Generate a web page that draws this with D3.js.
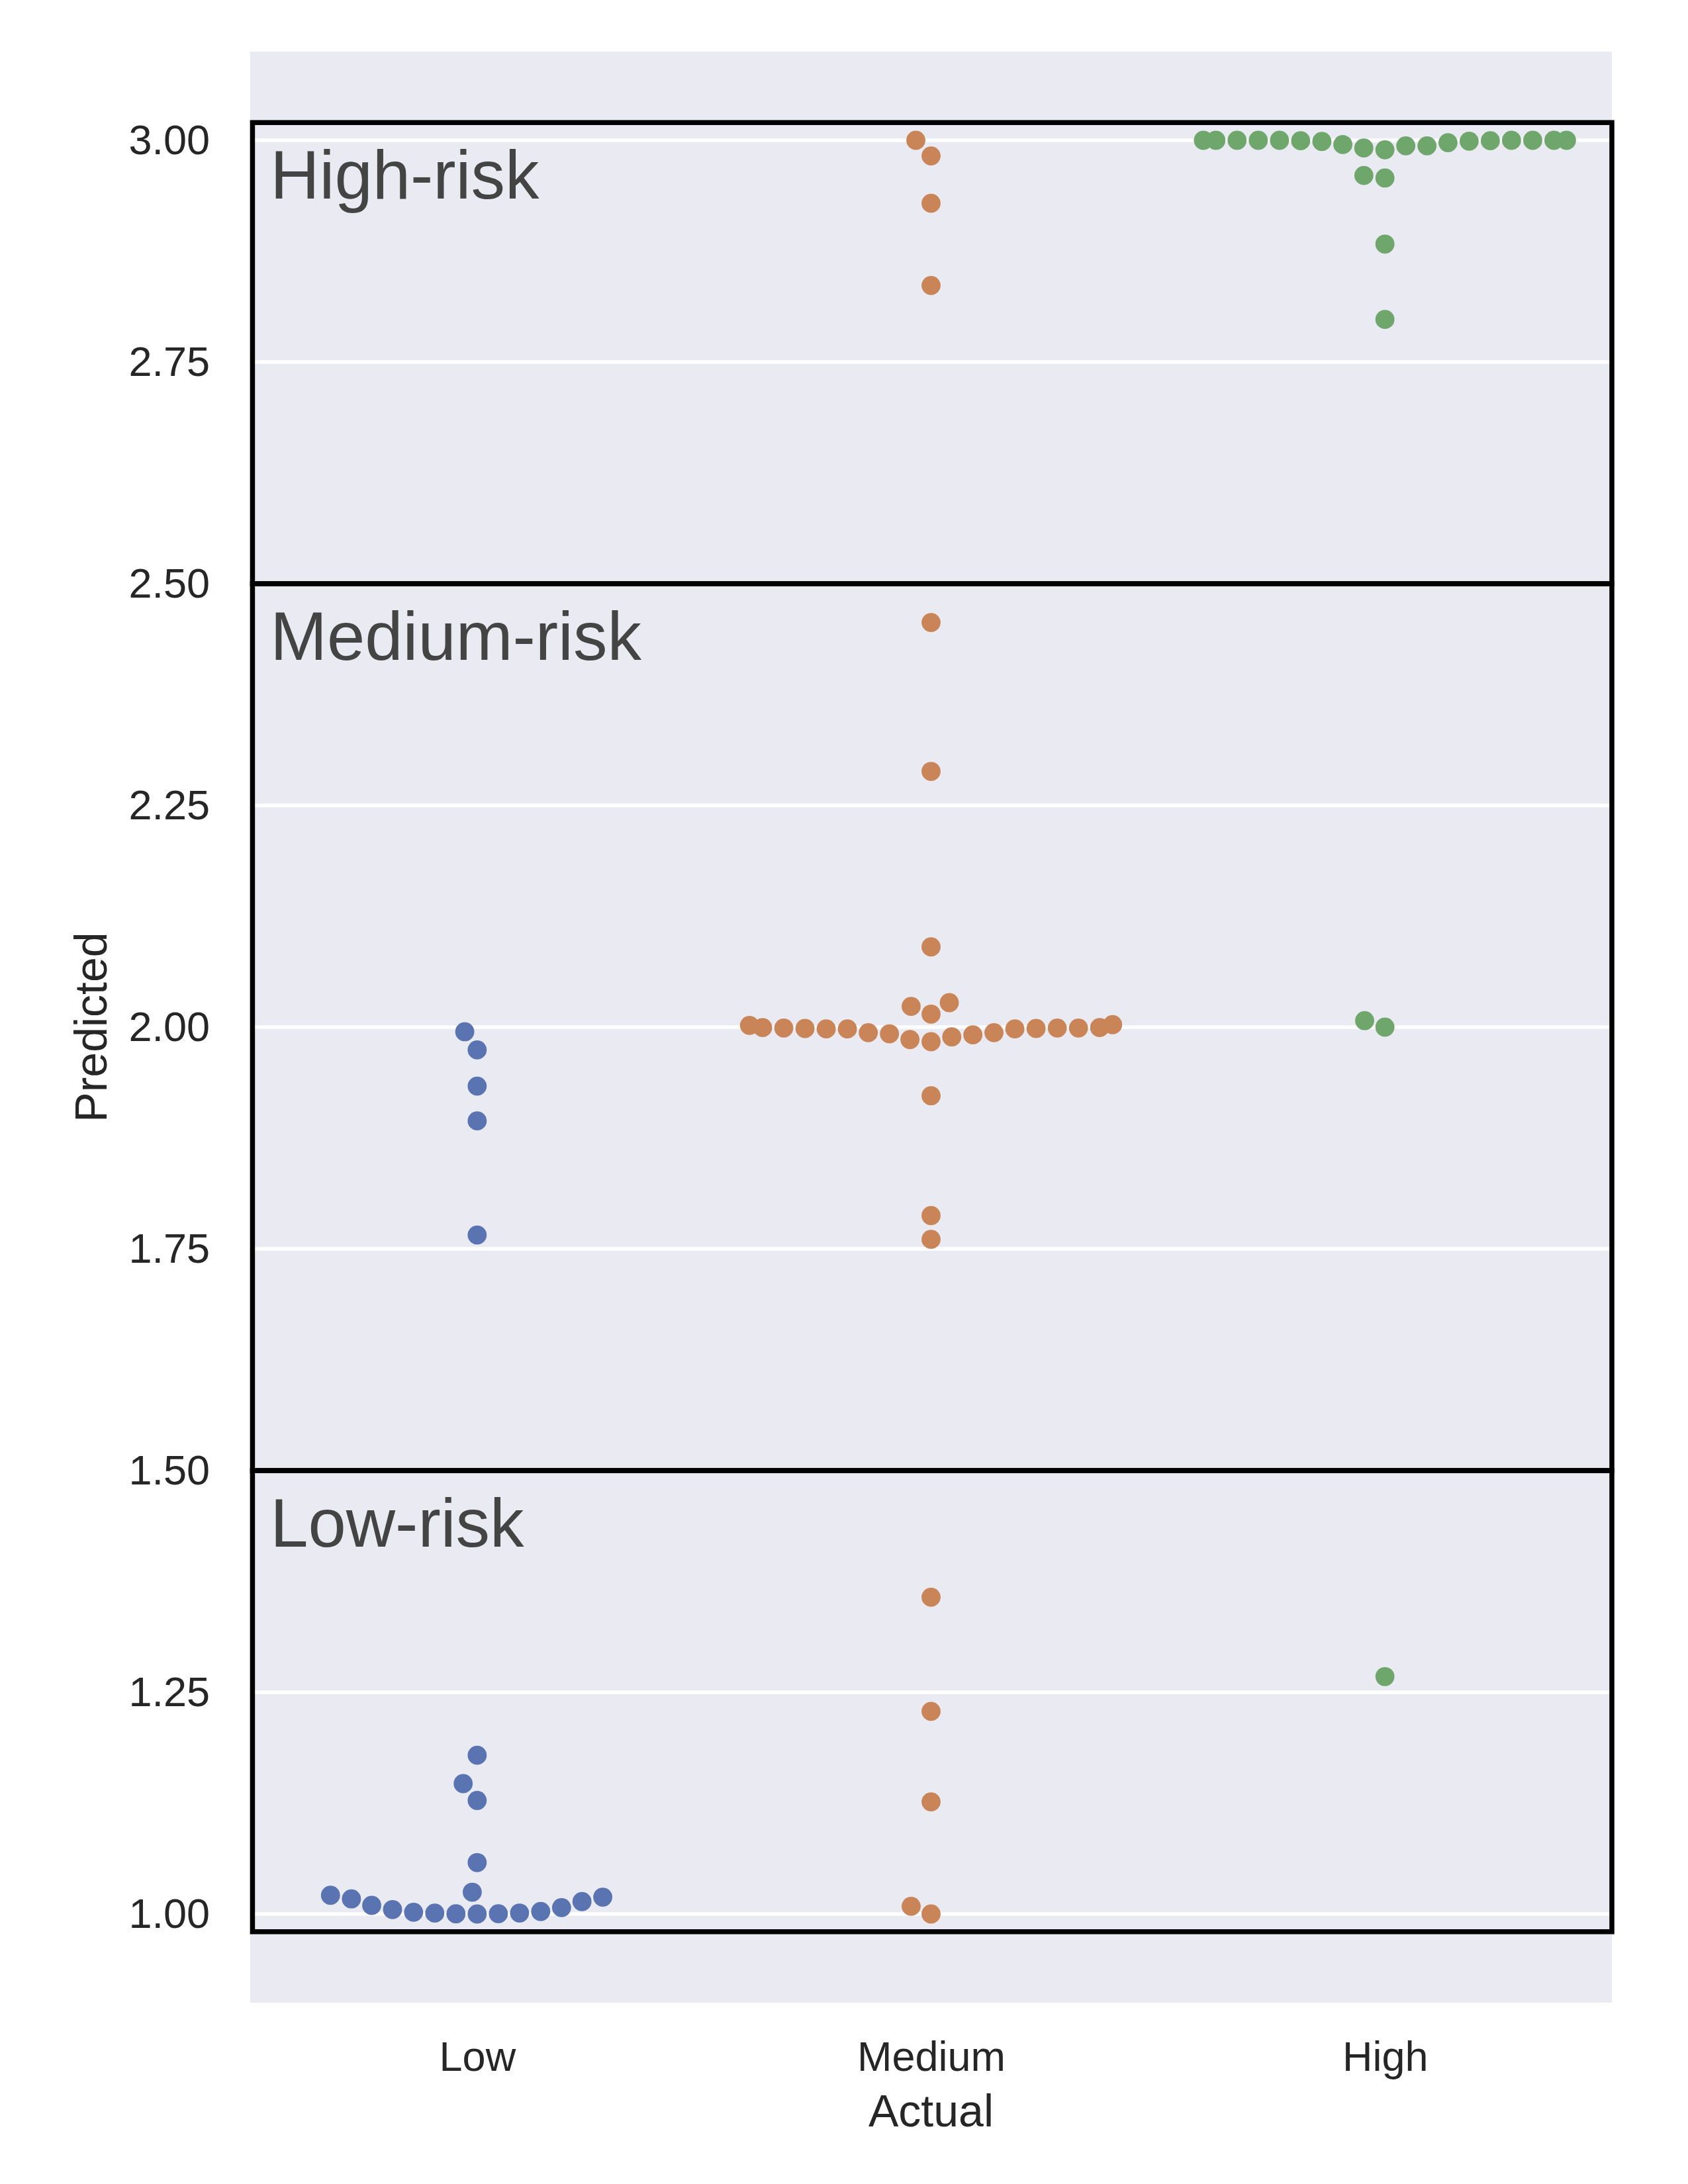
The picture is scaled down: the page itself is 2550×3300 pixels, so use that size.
<!doctype html>
<head>
    <meta charset="utf-8">
    <title>Actual vs Predicted risk</title>
    <script src="https://d3js.org/d3.v7.min.js"></script>
    <style>
        body {margin:0; background:#fff;}
        svg {display:block;}
        text {font-family:"Liberation Sans", Arial, sans-serif; fill:#262626;}
        .grid line {stroke:#fff; stroke-width:5.5px;}
        .axis path {display:none;}
        .axis text {font-size:63px; fill:#262626;}
        .box {fill:none; stroke:#000; stroke-width:7.5px;}
        .region text {font-size:103px; fill:#444;}
    </style>
</head>
<body>
    <script>
        "use strict";
        // categories on the x axis
        var categories = ["Low", "Medium", "High"];
        var colors = ["#5974B0", "#C98457", "#6FA66C"];

        // predicted values per actual class
        var lowPred = [1.9948, 1.9743, 1.9335, 1.8943, 1.7656,
            1.179, 1.147, 1.128, 1.058, 1.0246,
            1.0, 1.0002, 1.0003, 1.0010, 1.0011, 1.0020, 1.0028,
            1.0050, 1.0072, 1.0097, 1.0140, 1.0170, 1.0190, 1.0211];
        var mediumPred = [3.0, 2.9824, 2.929, 2.8363,
            2.4563, 2.2884, 2.0905, 2.0276, 2.0234, 2.0147,
            2.0028, 2.002, 1.9995, 1.9995, 1.999, 1.999, 1.999, 1.9985, 1.9985,
            1.998, 1.998, 1.998, 1.9938, 1.9938, 1.9925, 1.9913, 1.989, 1.986, 1.9836,
            1.9226, 1.7875, 1.7607,
            1.3572, 1.2285, 1.1264, 1.0087, 1.0];
        var highPred = [3.0, 3.0, 3.0, 3.0, 3.0, 3.0, 3.0, 3.0, 3.0,
            2.9995, 2.9995, 2.999, 2.9987, 2.9973, 2.9952, 2.9938, 2.9938, 2.9913, 2.9893,
            2.9604, 2.9575, 2.883, 2.798,
            2.0073, 2.0, 1.2677];
        var series = [lowPred, mediumPred, highPred];

        var yTicks = [1.00, 1.25, 1.50, 1.75, 2.00, 2.25, 2.50, 2.75, 3.00];

        // risk bands drawn as boxes
        var regionLabels = ["Low-risk", "Medium-risk", "High-risk"];
        var regionLower = [0.98, 1.5, 2.5];
        var regionUpper = [1.5, 2.5, 3.02];

        var width = 2550, height = 3300;
        var plotLeft = 378, plotRight = 2435, plotTop = 78, plotBottom = 3026;
        var dotR = 14.4;      // drawn marker radius
        var swarmD = 30.5;    // marker spacing used for packing
        var yPack = 0.9;      // swarm was packed on a slightly shorter axis

        var svg = d3.select("body").append("svg")
            .attr("width", width).attr("height", height);

        var x = d3.scaleLinear().domain([-0.5, 2.5]).range([plotLeft, plotRight]);
        var y = d3.scaleLinear().domain([0.9, 3.1]).range([plotBottom, plotTop]);

        svg.append("rect")
            .attr("x", plotLeft).attr("y", plotTop)
            .attr("width", plotRight - plotLeft).attr("height", plotBottom - plotTop)
            .attr("fill", "#EAEAF2");

        svg.append("g").attr("class", "grid")
            .selectAll("line").data(yTicks).enter().append("line")
            .attr("x1", plotLeft).attr("x2", plotRight)
            .attr("y1", function(d) { return y(d); })
            .attr("y2", function(d) { return y(d); });

        // beeswarm like seaborn: sort by value, take the candidate
        // nearest the midline that does not overlap, then clip to gutter
        function beeswarm(values, center) {
            var pts = values.map(function(v) { return { v: v, x: center, py: -y(v) * yPack }; });
            pts.sort(function(a, b) { return a.py - b.py; });
            var d = swarmD;
            var swarm = [pts[0]];
            for (var i = 1; i < pts.length; i++) {
                var p = pts[i];
                var neighbors = [];
                for (var j = swarm.length - 1; j >= 0; j--) {
                    if (p.py - swarm[j].py < d) neighbors.push(swarm[j]);
                    else break;
                }
                neighbors.reverse();
                var cands = [center];
                var leftFirst = true;
                neighbors.forEach(function(q) {
                    var dy = p.py - q.py;
                    var dx = Math.sqrt(Math.max(d * d - dy * dy, 0)) * 1.05;
                    if (leftFirst) cands.push(q.x - dx, q.x + dx);
                    else cands.push(q.x + dx, q.x - dx);
                    leftFirst = !leftFirst;
                });
                cands = cands.map(function(c, k) { return { c: c, k: k }; })
                    .sort(function(a, b) {
                        var da = Math.abs(a.c - center), db = Math.abs(b.c - center);
                        if (Math.abs(da - db) > 1e-9) return da - db;
                        return (a.c - b.c) || (a.k - b.k);
                    });
                var chosen = cands[cands.length - 1].c;
                for (var m = 0; m < cands.length; m++) {
                    var cx = cands[m].c;
                    var ok = neighbors.every(function(q) {
                        var ddx = q.x - cx, ddy = q.py - p.py;
                        return ddx * ddx + ddy * ddy >= d * d;
                    });
                    if (ok) { chosen = cx; break; }
                }
                p.x = chosen;
                swarm.push(p);
            }
            var half = x(0.4) - x(0);
            swarm.forEach(function(s) {
                s.x = Math.max(center - half, Math.min(center + half, s.x));
            });
            return swarm;
        }

        svg.append("g").selectAll("rect").data(regionLabels).enter().append("rect")
            .attr("class", "box")
            .attr("x", x(-0.495))
            .attr("width", x(2.5) - x(-0.495))
            .attr("y", function(d, i) { return y(regionUpper[i]); })
            .attr("height", function(d, i) { return y(regionLower[i]) - y(regionUpper[i]); });

        series.forEach(function(vals, i) {
            var pts = beeswarm(vals, x(i));
            svg.append("g").selectAll("circle").data(pts).enter().append("circle")
                .attr("cx", function(d) { return d.x; })
                .attr("cy", function(d) { return y(d.v); })
                .attr("r", dotR)
                .attr("fill", colors[i]);
        });

        svg.append("g").attr("class", "region")
            .selectAll("text").data(regionLabels).enter().append("text")
            .attr("x", x(-0.456))
            .attr("y", function(d, i) { return y(regionUpper[i] - 0.086); })
            .text(function(d) { return d; });

        svg.append("g").attr("class", "axis")
            .attr("transform", "translate(" + plotLeft + ",0)")
            .call(d3.axisLeft(y).tickValues(yTicks).tickFormat(d3.format(".2f"))
                .tickSize(0).tickPadding(61));

        svg.append("g").attr("class", "axis")
            .attr("transform", "translate(0," + plotBottom + ")")
            .call(d3.axisBottom(x).tickValues([0, 1, 2])
                .tickFormat(function(i) { return categories[i]; })
                .tickSize(0).tickPadding(58));

        svg.selectAll(".axis").attr("font-family", null).attr("font-size", null);

        svg.append("text")
            .attr("x", x(1)).attr("y", 3213)
            .attr("text-anchor", "middle")
            .style("font-size", "68px")
            .text("Actual");

        svg.append("text")
            .attr("transform", "translate(161," + ((plotTop + plotBottom) / 2) + ") rotate(-90)")
            .attr("text-anchor", "middle")
            .style("font-size", "68px")
            .text("Predicted");
    </script>
</body>
</html>
